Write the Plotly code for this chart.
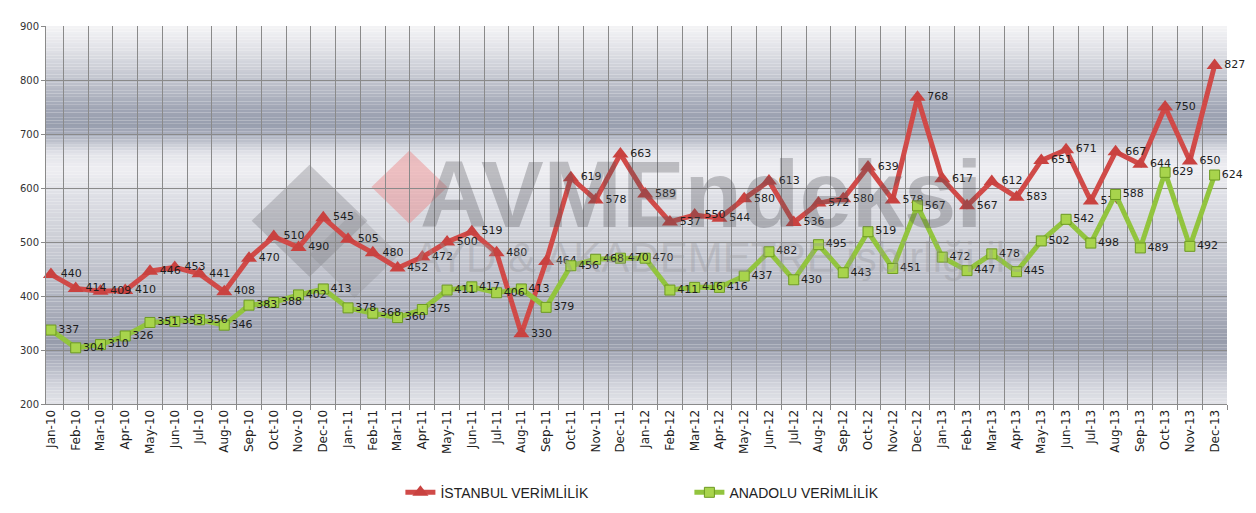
import plotly.graph_objects as go

months = ["Jan-10","Feb-10","Mar-10","Apr-10","May-10","Jun-10","Jul-10","Aug-10","Sep-10","Oct-10","Nov-10","Dec-10",
          "Jan-11","Feb-11","Mar-11","Apr-11","May-11","Jun-11","Jul-11","Aug-11","Sep-11","Oct-11","Nov-11","Dec-11",
          "Jan-12","Feb-12","Mar-12","Apr-12","May-12","Jun-12","Jul-12","Aug-12","Sep-12","Oct-12","Nov-12","Dec-12",
          "Jan-13","Feb-13","Mar-13","Apr-13","May-13","Jun-13","Jul-13","Aug-13","Sep-13","Oct-13","Nov-13","Dec-13"]

istanbul = [440, 414, 409, 410, 446, 453, 441, 408, 470, 510, 490, 545,
            505, 480, 452, 472, 500, 519, 480, 330, 464, 619, 578, 663,
            589, 537, 550, 544, 580, 613, 536, 572, 580, 639, 578, 768,
            617, 567, 612, 583, 651, 671, 576, 667, 644, 750, 650, 827]

anadolu = [337, 304, 310, 326, 351, 353, 356, 346, 383, 388, 402, 413,
           378, 368, 360, 375, 411, 417, 406, 413, 379, 456, 468, 470,
           470, 411, 416, 416, 437, 482, 430, 495, 443, 519, 451, 567,
           472, 447, 478, 445, 502, 542, 498, 588, 489, 629, 492, 624]

y_ticks = [200, 300, 400, 500, 600, 700, 800, 900]

# background gradient stops (value, rgb)
grad = [(900, (244, 244, 246)), (860, (226, 227, 232)), (800, (192, 195, 205)),
        (745, (160, 165, 180)), (715, (152, 158, 174)), (690, (184, 188, 200)),
        (665, (226, 227, 233)), (635, (238, 238, 242)), (585, (222, 223, 229)),
        (500, (203, 205, 213)), (420, (184, 187, 198)), (350, (162, 166, 180)),
        (315, (150, 155, 170)), (275, (178, 181, 194)), (235, (210, 212, 220)),
        (200, (226, 227, 232))]

def color_at(v):
    for (v1, c1), (v2, c2) in zip(grad[:-1], grad[1:]):
        if v2 <= v <= v1:
            t = (v1 - v) / (v1 - v2)
            return "rgb(%d,%d,%d)" % tuple(round(a + (b - a) * t) for a, b in zip(c1, c2))
    return "rgb(%d,%d,%d)" % grad[-1][1]

shapes = []
step = 5
v = 200
while v < 900:
    shapes.append(dict(type="rect", xref="paper", yref="y", x0=0, x1=1, y0=v, y1=v + step,
                       fillcolor=color_at(v + step / 2), line=dict(width=0), layer="below"))
    v += step

# watermark diamonds (paper coords)
def px(x):
    return (x - 36) / 1183
def py(y):
    return (405 - y) / 392

def diamond(cx, cy, r, color):
    path = "M %f %f L %f %f L %f %f L %f %f Z" % (
        px(cx), py(cy - r), px(cx + r), py(cy), px(cx), py(cy + r), px(cx - r), py(cy))
    return dict(type="path", xref="paper", yref="paper", path=path, fillcolor=color,
                line=dict(width=0), layer="below")

shapes.append(diamond(300, 215, 58, "rgba(110,110,115,0.30)"))
shapes.append(diamond(345, 250, 45, "rgba(130,130,135,0.25)"))
shapes.append(diamond(400, 180, 38, "rgba(235,120,120,0.40)"))

fig = go.Figure()

fig.add_trace(go.Scatter(
    x=months, y=istanbul, name="İSTANBUL VERİMLİLİK", mode="lines+markers+text",
    line=dict(color="#d04a48", width=5),
    marker=dict(symbol="triangle-up", size=14, color="#c94240", line=dict(width=0)),
    text=[str(v) for v in istanbul], textposition="middle right",
    textfont=dict(family="DejaVu Sans", size=11, color="#1e1e1e"),
    cliponaxis=False))

fig.add_trace(go.Scatter(
    x=months, y=anadolu, name="ANADOLU VERİMLİLİK", mode="lines+markers+text",
    line=dict(color="#92c43e", width=5),
    marker=dict(symbol="square", size=10, color="#a8d44c", line=dict(width=1, color="#6d9a22")),
    text=[str(v) for v in anadolu], textposition="middle right",
    textfont=dict(family="DejaVu Sans", size=11, color="#1e1e1e"),
    cliponaxis=False))

annotations = [
    dict(text="<b>AVMEndeksi</b>", xref="paper", yref="paper", x=px(692), y=py(188),
         showarrow=False, font=dict(family="Liberation Sans Narrow, Liberation Sans", size=94,
                                     color="rgba(85,85,90,0.32)")),
    dict(text="AYD &amp; AKADEMETRE işbirliği ile", xref="paper", yref="paper", x=px(712), y=py(253),
         showarrow=False, font=dict(family="Liberation Sans Narrow, Liberation Sans", size=42,
                                     color="rgba(150,150,155,0.35)")),
]

fig.update_layout(
    width=1256, height=513,
    margin=dict(l=36, r=37, t=13, b=108),
    paper_bgcolor="white", plot_bgcolor="rgba(0,0,0,0)",
    shapes=shapes, annotations=annotations,
    showlegend=True,
    legend=dict(orientation="h", x=px(391), xanchor="left", y=py(497), yanchor="middle",
                entrywidth=244, entrywidthmode="pixels",
                font=dict(family="Liberation Sans Narrow, Liberation Sans", size=14, color="#222"),
                bgcolor="rgba(0,0,0,0)"),
    xaxis=dict(type="category", range=[-0.2, 47.5], tickson="boundaries", showgrid=True,
               gridcolor="#8a8a8a", gridwidth=1, ticks="outside", ticklen=5, tickcolor="#8a8a8a",
               tickangle=-90, tickfont=dict(family="DejaVu Sans", size=12, color="#222"),
               showline=True, linecolor="#8a8a8a", linewidth=1, fixedrange=True),
    yaxis=dict(range=[200, 900], tickvals=y_ticks, showgrid=True, gridcolor="#8a8a8a", gridwidth=1,
               ticks="outside", ticklen=4, tickcolor="#8a8a8a",
               tickfont=dict(family="DejaVu Sans", size=10, color="#333"),
               showline=True, linecolor="#8a8a8a", linewidth=1, zeroline=False),
)

fig.write_html("out.html")
